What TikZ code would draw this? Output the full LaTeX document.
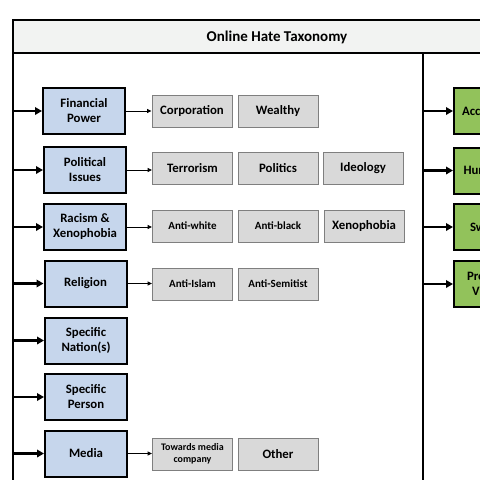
\documentclass[tikz,border=0pt]{standalone}
\usepackage{fontspec}
\setmainfont{Carlito}
\usetikzlibrary{arrows.meta}
\definecolor{bluefill}{HTML}{C6D6EC}
\definecolor{greenfill}{HTML}{92C25B}
\definecolor{greyfill}{HTML}{D9D9D9}
\definecolor{greyline}{HTML}{7F7F7F}
\definecolor{titlefill}{HTML}{F2F3F2}
\begin{document}
\begin{tikzpicture}[x=1pt,y=-1pt,
  catbox/.style={draw=black, line width=2pt, fill=bluefill, minimum width=82pt, minimum height=46pt, align=center, inner sep=0pt, font=\bfseries\fontsize{12.8}{15}\selectfont},
  subbox/.style={draw=greyline, line width=0.9pt, fill=greyfill, minimum width=80pt, minimum height=32pt, align=center, inner sep=0pt, font=\bfseries\fontsize{12.8}{15}\selectfont},
  smalltext/.style={font=\bfseries\fontsize{11}{13}\selectfont},
  tinytext/.style={font=\bfseries\fontsize{10}{12}\selectfont},
  typebox/.style={draw=black, line width=2pt, fill=greenfill, minimum width=82pt, minimum height=46pt, text width=66pt, inner xsep=8pt, inner ysep=0pt, align=left, anchor=west, font=\bfseries\fontsize{12.8}{15}\selectfont},
  framel/.style={line width=2.4pt, black},
  bigarrow/.style={line width=2.2pt, -{Triangle[length=7pt,width=7.5pt]}},
  thinarrow/.style={line width=0.9pt, -{Triangle[length=4.5pt,width=4pt]}},
]
\useasboundingbox (0,0) rectangle (480,480);
\clip (0,0) rectangle (480,480);
% frame
\fill[titlefill] (13,20) rectangle (500,53);
\node[font=\bfseries\fontsize{15}{17}\selectfont] (title) at (277,37) {Online Hate Taxonomy};
\draw[framel] (13,500) -- (13,20) -- (500,20);
\draw[framel] (13,53) -- (500,53);
\draw[framel] (423,53) -- (423,500);
\coordinate (spine) at (13,0);
\coordinate (divider) at (423,0);
% categories
\node[catbox] (fp) at (84,111) {Financial\\Power};
\node[catbox] (pi) at (85,170) {Political\\Issues};
\node[catbox] (rx) at (85,227) {Racism \&\\Xenophobia};
\node[catbox] (rel) at (85.5,283.5) {Religion};
\node[catbox] (sn) at (86,340.5) {Specific\\Nation(s)};
\node[catbox] (sp) at (86,397) {Specific\\Person};
\node[catbox] (med) at (86,453.5) {Media};
\foreach \n in {fp,pi,rx,rel,sn,sp,med}
  \draw[bigarrow] (spine |- \n.west) -- (\n.west);
% sub-categories
\node[subbox] (corp) at (192,111) {Corporation};
\node[subbox] (wealthy) at (278,111) {Wealthy};
\node[subbox] (terr) at (192.5,168) {Terrorism};
\node[subbox] (pol) at (278,168) {Politics};
\node[subbox] (ideo) at (363,168) {Ideology};
\node[subbox, smalltext] (aw) at (192.5,226) {Anti-white};
\node[subbox, smalltext] (ab) at (278,226) {Anti-black};
\node[subbox] (xeno) at (364,226) {Xenophobia};
\node[subbox, smalltext] (ai) at (192.5,284) {Anti-Islam};
\node[subbox, smalltext] (as) at (278,284) {Anti-Semitist};
\node[subbox, tinytext] (tmc) at (192.5,454) {Towards media\\company};
\node[subbox] (oth) at (278,454) {Other};
\draw[thinarrow] (fp.east) -- (fp.east -| corp.west);
\draw[thinarrow] (pi.east) -- (pi.east -| terr.west);
\draw[thinarrow] (rx.east) -- (rx.east -| aw.west);
\draw[thinarrow] (rel.east) -- (rel.east -| ai.west);
\draw[thinarrow] (med.east) -- (med.east -| tmc.west);
% types (cut off at the right edge)
\node[typebox] (acc) at (453,111) {Acc};
\node[typebox] (hum) at (453,170.5) {\hspace*{1.5pt}Hum};
\node[typebox] (sw) at (453,227) {\hspace*{8pt}Sw};
\node[typebox] (pv) at (453,284) {\hspace*{5pt}Pro\\\hspace*{10pt}Vi};
\foreach \n in {acc,hum,sw,pv}
  \draw[bigarrow] (divider |- \n.west) -- (\n.west);
\end{tikzpicture}
\end{document}
